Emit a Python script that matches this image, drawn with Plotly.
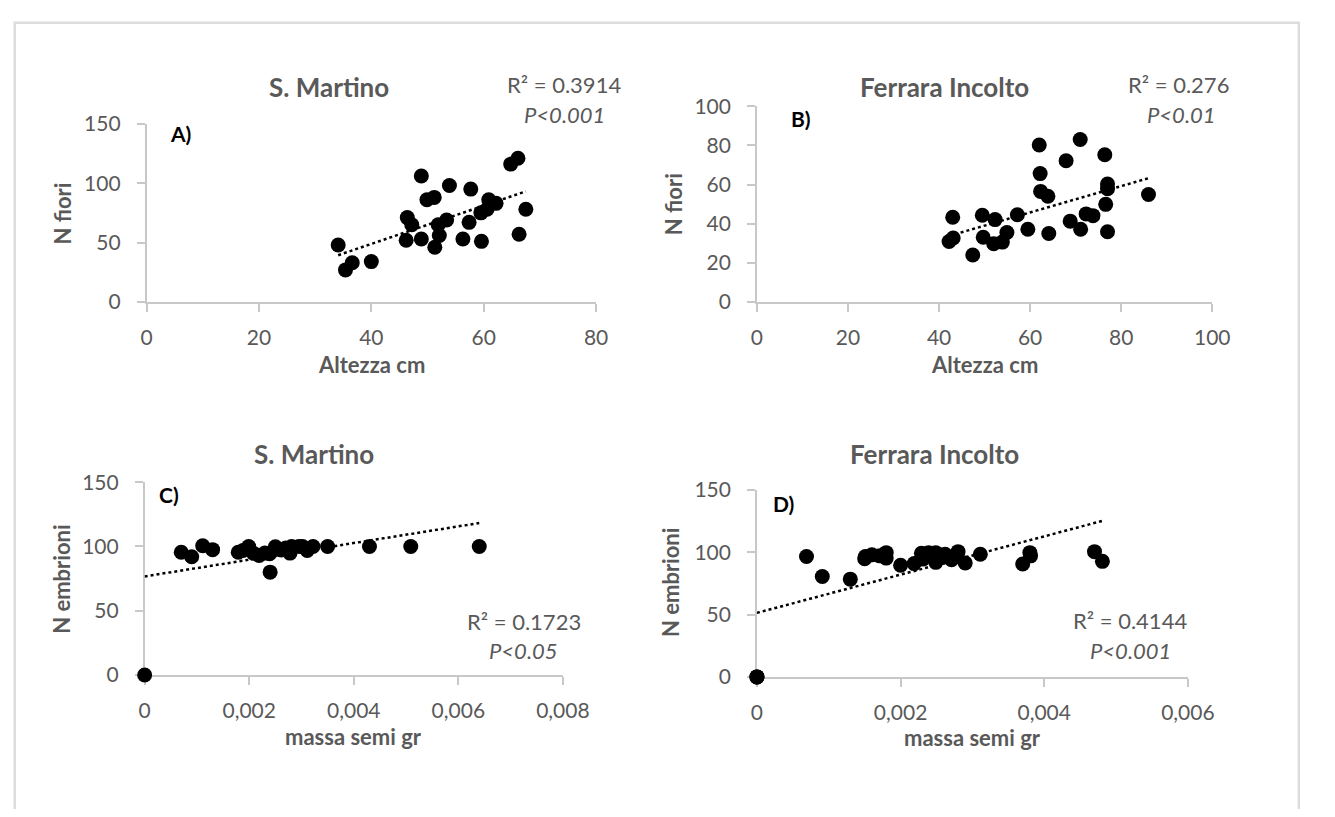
import numpy as np
import plotly.graph_objects as go

# ---------------- data ----------------
# Panel A: S. Martino, Altezza cm vs N fiori
a_altezza = [34.1, 35.4, 36.6, 40.0, 46.4, 47.2, 46.2, 48.9, 48.9, 49.9, 51.2, 51.3, 51.9, 52.1,
             53.4, 53.9, 56.3, 57.4, 57.7, 59.6, 59.5, 60.6, 60.9, 62.2, 64.8, 66.1, 66.3, 67.5]
a_fiori = [48, 27, 33, 34, 71, 65, 52, 53, 106, 86, 88, 46, 65, 56,
           69, 98, 53, 67, 95, 51, 75, 78, 86, 83, 116, 121, 57, 78]

# Panel B: Ferrara Incolto, Altezza cm vs N fiori
b_altezza = [43.0, 42.2, 43.1, 47.4, 49.5, 49.7, 52.0, 52.3, 53.9, 54.9, 57.2, 59.5, 62.0, 62.2,
             62.3, 63.9, 64.1, 67.9, 68.8, 71.0, 71.1, 72.3, 73.8, 76.4, 77.0, 77.0, 76.6, 77.0, 86.0]
b_fiori = [43.3, 30.9, 32.7, 24.0, 44.3, 33.1, 29.8, 42.1, 30.6, 35.5, 44.6, 37.2, 80.2, 65.6,
           56.5, 54.0, 35.0, 72.2, 41.3, 83.0, 37.2, 45.0, 44.1, 75.2, 60.3, 57.9, 49.9, 35.9, 54.9]

# Panel C: S. Martino, massa semi gr vs N embrioni
c_massa = [0.0, 0.00070, 0.00090, 0.00111, 0.00130, 0.00179, 0.00188, 0.00199, 0.00208, 0.00219,
           0.00230, 0.00239, 0.00240, 0.00250, 0.00261, 0.00270, 0.00278, 0.00281, 0.00295,
           0.00302, 0.00311, 0.00322, 0.00350, 0.00430, 0.00509, 0.00640]
c_embrioni = [0, 95.5, 92, 100.5, 97.5, 95.5, 96.8, 100, 94.8, 93,
              94.8, 94.3, 80, 99.8, 97.3, 98.8, 94.8, 100, 100,
              100, 96.8, 100, 100, 100, 100, 100]

# Panel D: Ferrara Incolto, massa semi gr vs N embrioni (three plants at 0, 0 overlap)
d_massa = [0.0, 0.0, 0.0, 0.00069, 0.00091, 0.00130, 0.00150, 0.00151, 0.00160, 0.00171, 0.00180,
           0.00180, 0.00200, 0.00219, 0.00229, 0.00231, 0.00239, 0.00249, 0.00249, 0.00258,
           0.00262, 0.00271, 0.00280, 0.00290, 0.00311, 0.00370, 0.00380, 0.00381, 0.00470, 0.00481]
d_embrioni = [0, 0, 0, 96.6, 80.5, 78.4, 94.8, 96.6, 97.9, 97.1, 99.7,
              95.3, 89.6, 90.9, 99.2, 94.5, 99.7, 99.7, 91.9, 95.8,
              98.4, 94.0, 100.5, 91.4, 98.4, 90.6, 99.7, 97.1, 100.5, 92.7]

titles = ["S. Martino", "Ferrara Incolto", "S. Martino", "Ferrara Incolto"]
panel_labels = ["A)", "B)", "C)", "D)"]
r2_labels = ["R² = 0.3914", "R² = 0.276", "R² = 0.1723", "R² = 0.4144"]
p_labels = ["P<0.001", "P<0.01", "P<0.05", "P<0.001"]
x_titles = ["Altezza cm", "Altezza cm", "massa semi gr", "massa semi gr"]
y_titles = ["N fiori", "N fiori", "N embrioni", "N embrioni"]

a_xticks = [0, 20, 40, 60, 80]
b_xticks = [0, 20, 40, 60, 80, 100]
c_xticks = [0, 0.002, 0.004, 0.006, 0.008]
c_xticktext = ["0", "0,002", "0,004", "0,006", "0,008"]
d_xticks = [0, 0.002, 0.004, 0.006]
d_xticktext = ["0", "0,002", "0,004", "0,006"]
a_yticks = [0, 50, 100, 150]
b_yticks = [0, 20, 40, 60, 80, 100]

# ---------------- layout helpers ----------------
# The page body keeps its default 8px margin, so the figure is sized to fit
# inside the 1335x817 window and page pixels are mapped with that offset.
OFF = 8
W, H = 1335 - 2 * OFF, 817 - 2 * OFF
def px(x):
    return (x - OFF) / W
def py(y):
    return 1 - (y - OFF) / H

FONT = "Lato"
GREY = "#595959"
AXIS = "#c8c8c8"
TICK = 21

fig = go.Figure()

panels = [
    dict(x=a_altezza, y=a_fiori, xr=[0, 80], yr=[0, 150], xt=a_xticks, xtt=[str(v) for v in a_xticks],
         yt=a_yticks, dom=([144, 605], [297, 113])),
    dict(x=b_altezza, y=b_fiori, xr=[0, 100], yr=[0, 100], xt=b_xticks, xtt=[str(v) for v in b_xticks],
         yt=b_yticks, dom=([770, 1237], [297, 95])),
    dict(x=c_massa, y=c_embrioni, xr=[0, 0.008], yr=[0, 150], xt=c_xticks, xtt=c_xticktext,
         yt=a_yticks, dom=([142, 571], [682, 483])),
    dict(x=d_massa, y=d_embrioni, xr=[0, 0.006], yr=[0, 150], xt=d_xticks, xtt=d_xticktext,
         yt=a_yticks, dom=([770, 1212], [684, 491])),
]

for i, p in enumerate(panels):
    k = "" if i == 0 else str(i + 1)
    xa, ya = "x" + k, "y" + k
    fig.add_trace(go.Scatter(x=p["x"], y=p["y"], mode="markers", xaxis=xa, yaxis=ya,
                             marker=dict(color="black", size=15), cliponaxis=False,
                             showlegend=False))
    xs = np.array(p["x"], dtype=float)
    ys = np.array(p["y"], dtype=float)
    m, b = np.polyfit(xs, ys, 1)
    xl = np.array([xs.min(), xs.max()])
    fig.add_trace(go.Scatter(x=xl, y=m * xl + b, mode="lines", xaxis=xa, yaxis=ya,
                             line=dict(color="black", width=2.5, dash="dot"),
                             showlegend=False, hoverinfo="skip"))
    (x0, x1), (y0, y1) = p["dom"]
    fig.update_layout(**{
        "xaxis" + k: dict(domain=[px(x0), px(x1)], range=p["xr"], tickvals=p["xt"], ticktext=p["xtt"],
                          showgrid=False, zeroline=False, showline=True, linecolor=AXIS, linewidth=1.5,
                          ticks="outside", ticklen=8, tickcolor=AXIS, tickwidth=1.5,
                          ticklabelstandoff=8, layer="below traces",
                          tickfont=dict(family=FONT, size=TICK, color=GREY), anchor=ya, fixedrange=True),
        "yaxis" + k: dict(domain=[py(y0), py(y1)], range=p["yr"], tickvals=p["yt"],
                          showgrid=False, zeroline=False, showline=True, linecolor=AXIS, linewidth=1.5,
                          ticks="outside", ticklen=8, tickcolor=AXIS, tickwidth=1.5,
                          ticklabelstandoff=12, layer="below traces",
                          tickfont=dict(family=FONT, size=TICK, color=GREY), anchor=xa, fixedrange=True),
    })

def ann(text, x, y, size=18, color=GREY, bold=False, italic=False, angle=0, xanchor="center"):
    if bold:
        text = "<b>" + text + "</b>"
    if italic:
        text = "<i>" + text + "</i>"
    fig.add_annotation(text=text, x=px(x), y=py(y), xref="paper", yref="paper", showarrow=False,
                       font=dict(family=FONT, size=size, color=color), textangle=angle,
                       xanchor=xanchor, yanchor="middle")

title_pos = [(331, 75), (962, 75), (316, 454), (952, 454)]
plabel_pos = [(179, 123), (815, 108), (167, 496), (797, 505)]
r2_pos = [(572, 73), (1202, 73), (531, 627), (1153, 626)]
pv_pos = [(573, 103), (1205, 103), (531, 657), (1153, 657)]
xt_pos = [(375, 362), (1003, 362), (356, 746), (991, 747)]
yt_pos = [(58, 206), (684, 196), (56, 583), (682, 587)]

for i in range(4):
    ann(titles[i], *title_pos[i], size=26, bold=True)
    ann(panel_labels[i], *plabel_pos[i], size=21, color="black", bold=True)
    ann(r2_labels[i], *r2_pos[i], size=22)
    ann(p_labels[i], *pv_pos[i], size=22, italic=True)
    ann(x_titles[i], *xt_pos[i], size=22, bold=True)
    ann(y_titles[i], *yt_pos[i], size=22, bold=True, angle=-90)

# outer frame (its bottom edge lies below the visible area)
fig.add_shape(type="rect", xref="paper", yref="paper", x0=px(OFF + 0.8), x1=px(1335 - OFF - 1.2),
              y0=py(860), y1=py(OFF + 0.8),
              line=dict(color="#dcdcdc", width=2.5), fillcolor="rgba(0,0,0,0)", layer="below")

fig.update_layout(width=W, height=H, margin=dict(l=0, r=0, t=0, b=0),
                  paper_bgcolor="white", plot_bgcolor="white", showlegend=False)

fig.write_html("out.html", config={"displayModeBar": False})
